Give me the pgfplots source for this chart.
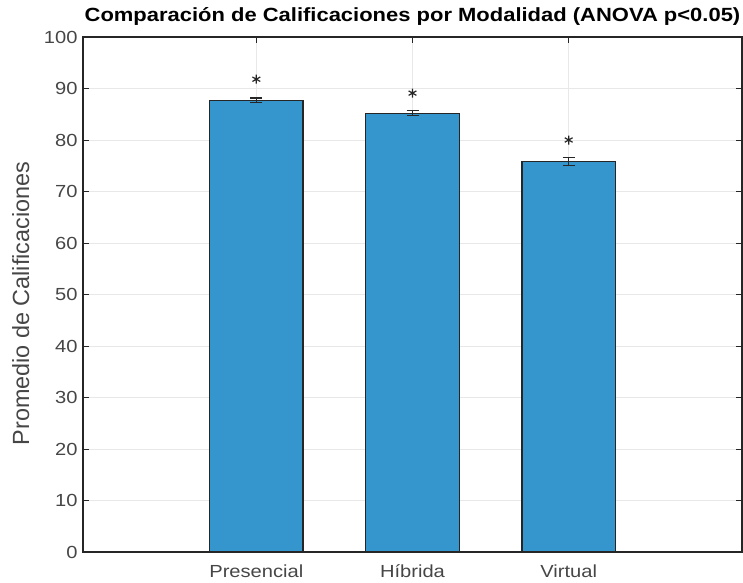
\documentclass[border=0pt]{standalone}
\usepackage{fontspec}
\setmainfont{Liberation Sans}[FakeStretch=1.15]
\newfontfamily\plainsans{Liberation Sans}
\usepackage{pgfplots}
\pgfplotsset{compat=1.18}
\definecolor{barblue}{RGB}{52,150,204}
\definecolor{axisgray}{RGB}{38,38,38}
\definecolor{labelgray}{RGB}{70,70,70}
\begin{document}
\begin{tikzpicture}
\begin{axis}[
    scale only axis,
    width=659pt, height=515pt,
    xmin=-0.11, xmax=4.11,
    ymin=0, ymax=100,
    xtick={1,2,3},
    xticklabels={Presencial,Híbrida,Virtual},
    ytick={0,10,...,100},
    tick align=inside,
    tick pos=both,
    major tick length=6pt,
    grid=major,
    grid style={gray!18, line width=1pt},
    axis line style={axisgray, line width=1.2pt},
    every tick/.style={axisgray, line width=1pt},
    tick label style={font=\fontsize{17.5}{21}\selectfont, text=labelgray},
    xticklabel style={anchor=base, yshift=-25pt},
    yticklabel style={xshift=-2pt},
    /pgf/number format/assume math mode=true,
    ylabel={Promedio de Calificaciones},
    ylabel style={font=\plainsans\fontsize{23.4}{28}\selectfont, text=labelgray,
        at={(axis description cs:-0.0759,0.4825)}, anchor=south, rotate=0},
    title={\textbf{Comparación de Calificaciones por Modalidad (ANOVA p<0.05)}},
    title style={font=\fontsize{19.1}{23}\selectfont, anchor=base,
        at={(axis description cs:0.5,1)}, yshift=9pt},
]
\addplot[ybar, bar width=0.6, fill=barblue, draw=black!85, line width=1.4pt,
    error bars/.cd, y dir=both, y explicit,
    error bar style={black!85, line width=1.2pt},
    error mark options={rotate=90, mark size=6pt, line width=1.2pt, black!85}]
    coordinates {(1,87.7) +- (0,0.45) (2,85.2) +- (0,0.5) (3,75.8) +- (0,0.8)};
\addplot[only marks, mark=asterisk, mark size=4.5pt, line width=1.2pt, color=black!85]
    coordinates {(1,91.8) (2,89.1) (3,80.0)};
\end{axis}
\pgfresetboundingbox
\path[use as bounding box] (-83pt,-30pt) rectangle (660pt,552pt);
\end{tikzpicture}
\end{document}
